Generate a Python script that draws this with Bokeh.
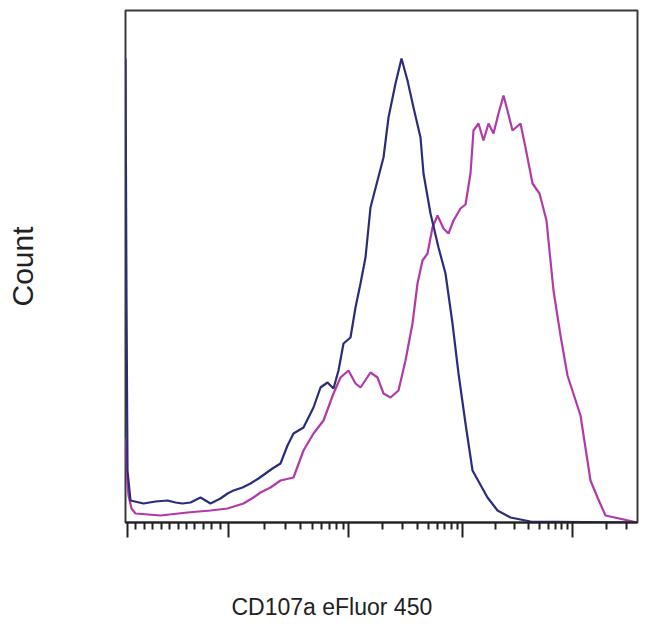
import math
from bokeh.plotting import figure
from bokeh.models import Range1d, FixedTicker, Title, CustomJSTickFormatter, LinearAxis
from bokeh.embed import file_html
from bokeh.resources import INLINE

# ---- data (channel units 0..1024, counts) ----
blue_x = [0, 2, 4, 10, 36, 60, 84, 100, 114, 130, 150, 170, 190, 204, 216, 234, 250,
          266, 280, 294, 310, 324, 336, 356, 376, 390, 404, 416, 426, 436, 450, 460,
          470, 480, 490, 504, 516, 526, 540, 552, 564, 576, 590, 596, 610, 626, 640,
          654, 666, 680, 694, 724, 744, 770, 810, 1024]
blue_y = [464, 222, 52, 22, 19, 21, 22, 20, 19, 20, 25, 19, 24, 29, 32, 35, 39,
          44, 49, 54, 59, 77, 89, 95, 115, 135, 140, 134, 152, 179, 185, 215,
          239, 265, 315, 342, 365, 405, 439, 464, 442, 415, 385, 349, 309, 275, 249,
          199, 149, 99, 52, 25, 12, 5, 1, 0]

mag_x = [0, 2, 6, 12, 20, 70, 124, 170, 204, 236, 256, 270, 290, 310, 336, 356,
         376, 396, 416, 430, 446, 460, 470, 490, 504, 516, 530, 546, 560, 574, 584,
         594, 604, 614, 624, 636, 646, 656, 670, 680, 690, 696, 706, 716, 726, 736,
         746, 756, 764, 774, 790, 800, 814, 828, 842, 856, 870, 884, 910, 930, 944,
         960, 1024]
mag_y = [84, 52, 27, 14, 9, 7, 10, 12, 14, 19, 25, 30, 35, 42, 45, 72, 89,
         102, 129, 145, 152, 139, 135, 150, 145, 129, 125, 132, 162, 199, 239,
         262, 269, 295, 307, 294, 289, 302, 314, 318, 349, 392, 399, 382, 399, 389,
         409, 427, 412, 392, 399, 375, 339, 329, 302, 232, 187, 147, 107, 42, 25,
         7, 0]

# axis tick layout (channel units)
linear_ticks_start = 4
decade_starts = [206, 446, 674, 894]
decade_width_last = 225

major_ticks = [linear_ticks_start] + decade_starts
minor_ticks = []
n_lin = 12
for i in range(1, n_lin):
    minor_ticks.append(linear_ticks_start + (decade_starts[0] - linear_ticks_start) * i / n_lin)
for i, d in enumerate(decade_starts):
    w = (decade_starts[i + 1] - d) if i + 1 < len(decade_starts) else decade_width_last
    for k in range(2, 10):
        t = d + math.log10(k) * w
        if t < 1024:
            minor_ticks.append(t)

x_title = "CD107a eFluor 450"
y_title = "Count"

p = figure(width=650, height=641, output_backend="svg", toolbar_location=None,
           x_range=Range1d(0, 1024), y_range=Range1d(0, 512),
           min_border_left=125, min_border_right=13, min_border_top=10,
           min_border_bottom=119)

p.xgrid.visible = False
p.ygrid.visible = False
p.background_fill_color = "white"
p.border_fill_color = "white"
p.outline_line_color = "#3a3a3a"
p.outline_line_width = 2

p.line(mag_x, mag_y, line_color="#b03aa8", line_width=2.2)
p.line(blue_x, blue_y, line_color="#2c2c7c", line_width=2.2)

xa = p.xaxis[0]
xa.ticker = FixedTicker(ticks=major_ticks, minor_ticks=minor_ticks)
xa.formatter = CustomJSTickFormatter(code="return ''")
xa.axis_line_color = "#222222"
xa.axis_line_width = 2
xa.major_tick_line_color = "#222222"
xa.major_tick_line_width = 2
xa.minor_tick_line_color = "#222222"
xa.minor_tick_line_width = 2
xa.major_tick_out = 15
xa.major_tick_in = 0
xa.minor_tick_out = 7
xa.minor_tick_in = 0

# invisible spacer axis: only reserves room so the x title sits lower
spacer = LinearAxis(ticker=FixedTicker(ticks=[major_ticks[0]]),
                    formatter=CustomJSTickFormatter(code="return ''"),
                    axis_line_color=None, major_tick_line_color=None,
                    minor_tick_line_color=None, major_tick_out=39,
                    major_tick_in=0, minor_tick_out=0, minor_tick_in=0,
                    major_label_standoff=0)
p.add_layout(spacer, "below")

ya = p.yaxis[0]
ya.ticker = FixedTicker(ticks=[])
ya.axis_line_color = None
ya.major_tick_line_color = None
ya.minor_tick_line_color = None
ya.major_tick_out = 0
ya.major_tick_in = 0
ya.minor_tick_out = 0
ya.minor_tick_in = 0
ya.major_label_standoff = 0
ya.axis_label = y_title
ya.axis_label_text_font = "Liberation Sans"
ya.axis_label_text_font_size = "30px"
ya.axis_label_text_font_style = "normal"
ya.axis_label_text_color = "#222222"
ya.axis_label_standoff = 87

p.add_layout(Title(text=x_title, align="left", offset=106, standoff=30,
                   text_font="Liberation Sans", text_font_size="23px",
                   text_font_style="normal", text_color="#222222"), "below")

open("out.html", "w").write(file_html(p, INLINE))
